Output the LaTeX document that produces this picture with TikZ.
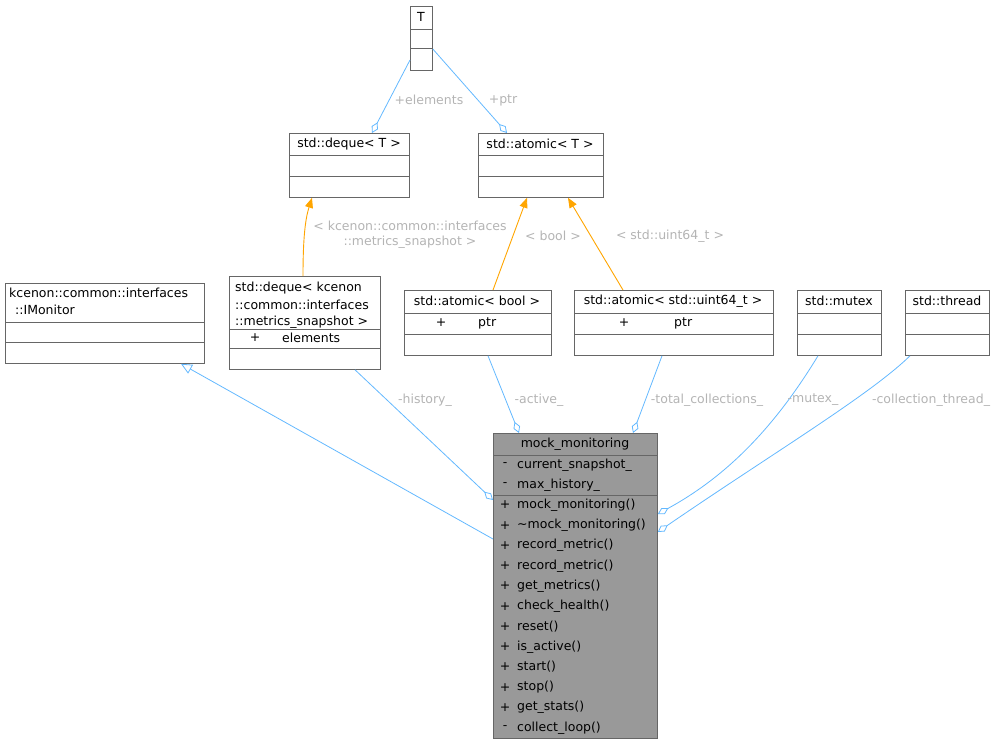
\documentclass[tikz,border=0pt]{standalone}
\usepackage{fontspec}
\setmainfont{DejaVu Sans}
\usetikzlibrary{arrows.meta,calc}
\definecolor{bord}{HTML}{666666}
\definecolor{ecol}{HTML}{63B8FF}
\definecolor{ocol}{HTML}{FFA500}
\definecolor{lcol}{HTML}{B4B4B4}
\definecolor{mfill}{HTML}{999999}
\begin{document}
\begin{tikzpicture}[x=1pt,y=-1pt,
  every node/.style={font=\fontsize{12.5}{15}\selectfont, inner sep=0pt},
  box/.style={draw=bord, fill=white, anchor=north west, line width=0.8pt},
  txt/.style={anchor=center},
  ltxt/.style={anchor=west},
  lab/.style={text=lcol, align=center},
  agg/.style={draw=ecol, line width=0.8pt, -{Diamond[open,length=12pt,width=7pt]}},
  tmpl/.style={draw=ocol, line width=0.9pt, -{Triangle[length=10pt,width=8pt]}},
  inh/.style={draw=ecol, line width=0.8pt, {Triangle[open,length=11pt,width=10pt]}-},
  sep/.style={draw=bord, line width=0.8pt}]
\useasboundingbox (0,0) rectangle (1001,744);
% boxes
\node[box,minimum width=22pt,minimum height=64pt] (T) at (410,6) {};
\node[txt] (Tt) at (421,17) {T};
\draw[sep] (410,29)--(432,29) (410,48)--(432,48);

\node[box,minimum width=120pt,minimum height=64pt] (dq) at (289,133) {};
\node[txt] (dqt) at (349,144) {std::deque< T >};
\draw[sep] (289,155)--(409,155) (289,176)--(409,176);

\node[box,minimum width=125pt,minimum height=64pt] (at) at (478,133) {};
\node[txt] (att) at (540,144) {std::atomic< T >};
\draw[sep] (478,155)--(603,155) (478,176)--(603,176);

\node[box,minimum width=199pt,minimum height=80pt] (im) at (5,283) {};
\node[ltxt] (imt1) at (9,293) {kcenon::common::interfaces};
\node[ltxt] (imt2) at (15,310) {::IMonitor};
\draw[sep] (5,322)--(204,322) (5,342)--(204,342);

\node[box,minimum width=151pt,minimum height=93pt] (dk) at (229,276) {};
\node[ltxt] (dk1) at (235,288) {std::deque< kcenon};
\node[ltxt] (dk2) at (235,305) {::common::interfaces};
\node[ltxt] (dk3) at (235,322) {::metrics\_snapshot >};
\node[txt] (dkp) at (255,338) {+};
\node[ltxt] (dke) at (282,338) {elements};
\draw[sep] (229,329)--(380,329) (229,348)--(380,348);

\node[box,minimum width=147pt,minimum height=65pt] (ab) at (404,290) {};
\node[txt] (abt) at (477,301) {std::atomic< bool >};
\node[txt] (abp) at (441,323) {+};
\node[ltxt] (abr) at (478,323) {ptr};
\draw[sep] (404,313)--(551,313) (404,334)--(551,334);

\node[box,minimum width=199pt,minimum height=65pt] (au) at (574,290) {};
\node[txt] (aut) at (673,301) {std::atomic< std::uint64\_t >};
\node[txt] (aup) at (624,323) {+};
\node[ltxt] (aur) at (674,323) {ptr};
\draw[sep] (574,313)--(773,313) (574,334)--(773,334);

\node[box,minimum width=84pt,minimum height=65pt] (mx) at (797,290) {};
\node[txt] (mxt) at (839,301) {std::mutex};
\draw[sep] (797,313)--(881,313) (797,334)--(881,334);

\node[box,minimum width=84pt,minimum height=65pt] (th) at (905,290) {};
\node[txt] (tht) at (947,301) {std::thread};
\draw[sep] (905,313)--(989,313) (905,334)--(989,334);

\node[box,fill=mfill,minimum width=164pt,minimum height=305pt] (mk) at (493,433) {};
\node[txt] (mkt) at (575,444) {mock\_monitoring};
\draw[sep] (493,455)--(657,455) (493,495)--(657,495);
\node[txt] (a1s) at (505,465) {-}; \node[ltxt] (a1) at (517,465) {current\_snapshot\_};
\node[txt] (a2s) at (505,485) {-}; \node[ltxt] (a2) at (517,485) {max\_history\_};
\foreach \s/\n [count=\i from 0] in {+/mock\_monitoring(),+/\textasciitilde mock\_monitoring(),+/record\_metric(),+/record\_metric(),+/get\_metrics(),+/check\_health(),+/reset(),+/is\_active(),+/start(),+/stop(),+/get\_stats(),-/collect\_loop()}{
  \node[txt] (ms\i) at (505,505+20.25*\i) {\s};
  \node[ltxt] (m\i) at (517,505+20.25*\i) {\n};
}
% edges
\draw[agg] ($(T.north west)+(0,54)$) -- ($(dq.north west)+(83,0)$);
\draw[agg] ($(T.north east)+(0,43)$) -- ($(at.north west)+(29,0)$);
\draw[tmpl] ($(dk.north west)+(74,0)$) .. controls (303,240) and (305,220) .. ($(dq.south west)+(23,0)$);
\draw[tmpl] ($(ab.north west)+(89,0)$) -- ($(at.south west)+(49,0)$);
\draw[tmpl] ($(au.north west)+(49,0)$) -- ($(at.south west)+(90,0)$);
\draw[inh] ($(im.south west)+(176,0)$) -- ($(mk.north west)+(0,106)$);
\draw[agg] ($(dk.south west)+(126,0)$) -- ($(mk.north west)+(0,67)$);
\draw[agg] ($(ab.south west)+(84,0)$) -- ($(mk.north west)+(26,0)$);
\draw[agg] ($(au.south west)+(88,0)$) -- ($(mk.north west)+(140,0)$);
\draw[agg] ($(mx.south west)+(21,0)$) .. controls (770,435) and (720,480) .. ($(mk.north east)+(0,81)$);
\draw[agg] ($(th.south west)+(5,0)$) .. controls (870,395) and (770,455) .. ($(mk.north east)+(0,99)$);
% labels
\node[lab] (l1) at (429,100) {+elements};
\node[lab] (l2) at (503,100) {+ptr};
\node[lab] (l3) at (410,235) {< kcenon::common::interfaces\\::metrics\_snapshot >};
\node[lab] (l4) at (553,236) {< bool >};
\node[lab] (l5) at (670,236) {< std::uint64\_t >};
\node[lab] (l6) at (425,400) {-history\_};
\node[lab] (l7) at (539,400) {-active\_};
\node[lab] (l8) at (707,400) {-total\_collections\_};
\node[lab] (l9) at (813,400) {-mutex\_};
\node[lab] (l10) at (931,400) {-collection\_thread\_};
\end{tikzpicture}
\end{document}
